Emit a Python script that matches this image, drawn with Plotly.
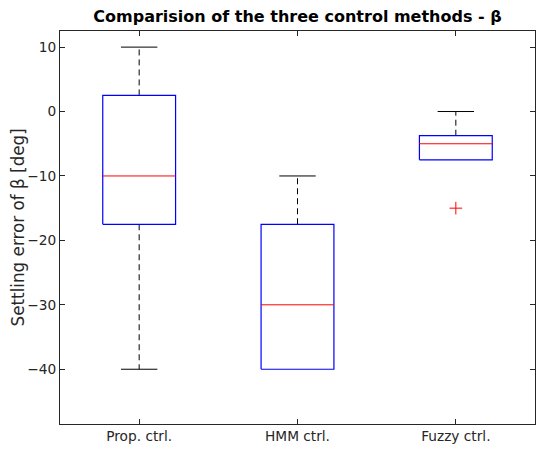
import plotly.graph_objects as go

# ---- data ----
categories = ["Prop. ctrl.", "HMM ctrl.", "Fuzzy ctrl."]
upper_whisker = [10, -10, 0]
q3 = [2.5, -17.5, -3.75]
median = [-10, -30, -5]
q1 = [-17.5, -40, -7.5]
lower_whisker = [-40, -40, -7.5]
outliers = [[], [], [-15]]

positions = [1, 2, 3]
BOX_W = 0.46
CAP_W = 0.23
FONT = "DejaVu Sans"
AX = "#262626"

wx, wy = [], []   # whiskers (dashed)
cx, cy = [], []   # caps
bx, by = [], []   # boxes
mx, my = [], []   # medians
ox, oy = [], []   # outliers
for p, uw, a, m, b, lw, outs in zip(positions, upper_whisker, q3, median, q1, lower_whisker, outliers):
    if uw > a:
        wx += [p, p, None]; wy += [a, uw, None]
        cx += [p - CAP_W / 2, p + CAP_W / 2, None]; cy += [uw, uw, None]
    if lw < b:
        wx += [p, p, None]; wy += [b, lw, None]
        cx += [p - CAP_W / 2, p + CAP_W / 2, None]; cy += [lw, lw, None]
    h = BOX_W / 2
    bx += [p - h, p + h, p + h, p - h, p - h, None]
    by += [b, b, a, a, b, None]
    mx += [p - h, p + h, None]; my += [m, m, None]
    for o in outs:
        ox.append(p); oy.append(o)

fig = go.Figure()
fig.add_trace(go.Scatter(x=wx, y=wy, mode="lines", line=dict(color="black", width=1, dash="6px,4px"), hoverinfo="skip"))
fig.add_trace(go.Scatter(x=cx, y=cy, mode="lines", line=dict(color="black", width=1), hoverinfo="skip"))
fig.add_trace(go.Scatter(x=bx, y=by, mode="lines", line=dict(color="#0000FF", width=1.2), hoverinfo="skip"))
fig.add_trace(go.Scatter(x=mx, y=my, mode="lines", line=dict(color="#FF0000", width=1), hoverinfo="skip"))
fig.add_trace(go.Scatter(x=ox, y=oy, mode="markers",
                         marker=dict(symbol="cross-thin-open", size=9, color="#FF0000",
                                     line=dict(color="#FF0000", width=1)),
                         hoverinfo="skip"))

axis_common = dict(showline=True, linecolor=AX, linewidth=1, mirror="ticks", ticks="inside",
                   ticklen=5, tickcolor=AX, tickwidth=1, showgrid=False, zeroline=False,
                   tickfont=dict(family=FONT, size=13.7, color=AX))

fig.update_layout(
    width=537, height=450,
    margin=dict(l=60, r=2, t=31, b=26),
    paper_bgcolor="white", plot_bgcolor="white",
    showlegend=False,
    title=dict(text="<b>Comparision of the three control methods - β</b>", x=0.5, xref="paper",
               xanchor="center", y=1 - 16 / 450, yanchor="middle",
               font=dict(family=FONT, size=16, color="black")),
    xaxis=dict(range=[0.5, 3.5], tickvals=positions, ticktext=categories, **axis_common),
    yaxis=dict(range=[-48.5, 12.5], tickvals=[10, 0, -10, -20, -30, -40], **axis_common),
    annotations=[dict(text="Settling error of β [deg]", xref="paper", yref="paper",
                      x=(17 - 60) / 475, y=0.5, xanchor="center", yanchor="middle",
                      textangle=-90, showarrow=False,
                      font=dict(family=FONT, size=16.8, color=AX))],
)

fig.write_html("out.html")
